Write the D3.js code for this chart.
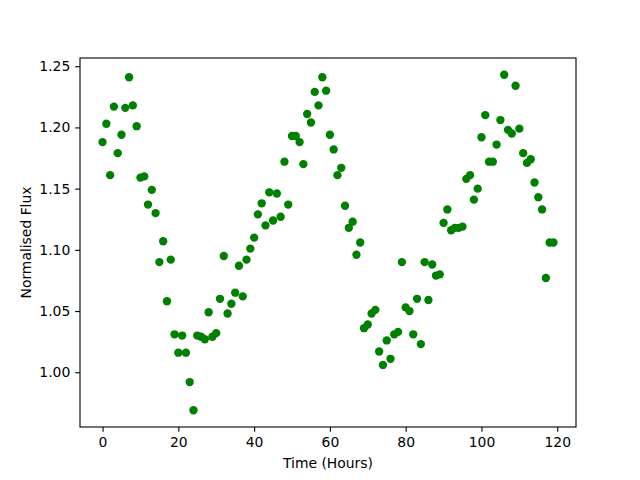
<!DOCTYPE html>
<html>
<head>
<meta charset="utf-8">
<script src="https://cdn.jsdelivr.net/npm/d3@7"></script>
<style>
  body { margin: 0; background: #fff; }
  svg { display: block; font-family: "DejaVu Sans", sans-serif; }
</style>
</head>
<body>
<svg width="640" height="480"></svg>
<script>
// Hourly samples, hours 0..119
const hours = d3.range(120);
const flux = [
  1.188, 1.203, 1.161, 1.217, 1.179, 1.194, 1.216, 1.241, 1.218, 1.201,
  1.159, 1.160, 1.137, 1.149, 1.130, 1.090, 1.107, 1.058, 1.092, 1.031,
  1.016, 1.030, 1.016, 0.992, 0.969, 1.030, 1.029, 1.027, 1.049, 1.029,
  1.032, 1.060, 1.095, 1.048, 1.056, 1.065, 1.087, 1.062, 1.092, 1.101,
  1.110, 1.129, 1.138, 1.120, 1.147, 1.124, 1.146, 1.127, 1.172, 1.137,
  1.193, 1.193, 1.188, 1.170, 1.211, 1.204, 1.229, 1.218, 1.241, 1.230,
  1.194, 1.182, 1.161, 1.167, 1.136, 1.118, 1.123, 1.096, 1.106, 1.036,
  1.039, 1.048, 1.051, 1.017, 1.006, 1.026, 1.011, 1.031, 1.033, 1.090,
  1.053, 1.050, 1.031, 1.060, 1.023, 1.090, 1.059, 1.088, 1.079, 1.080,
  1.122, 1.133, 1.116, 1.118, 1.118, 1.119, 1.158, 1.161, 1.141, 1.150,
  1.192, 1.210, 1.172, 1.172, 1.186, 1.206, 1.243, 1.198, 1.195, 1.234,
  1.199, 1.179, 1.171, 1.174, 1.155, 1.143, 1.133, 1.077, 1.106, 1.106
];
const xTicks = [0, 20, 40, 60, 80, 100, 120];
const yTicks = [1.00, 1.05, 1.10, 1.15, 1.20, 1.25];

const margin = { left: 80, right: 64, top: 58, bottom: 53 };
const width = 640, height = 480;
const svg = d3.select("svg");

// matplotlib-style 5% padding around the data range
function padded(ext) {
  const pad = (ext[1] - ext[0]) * 0.05;
  return [ext[0] - pad, ext[1] + pad];
}

const x = d3.scaleLinear()
  .domain(padded(d3.extent(hours)))
  .range([margin.left, width - margin.right]);
const y = d3.scaleLinear()
  .domain(padded(d3.extent(flux)))
  .range([height - margin.bottom, margin.top]);

const fontSize = 13.9;
const tickLen = 4.86;

// x axis
const xAxis = svg.append("g")
  .attr("transform", `translate(0,${height - margin.bottom})`)
  .call(d3.axisBottom(x).tickValues(xTicks).tickFormat(d3.format("d"))
    .tickSizeInner(tickLen).tickSizeOuter(0).tickPadding(4.86));
// y axis
const yAxis = svg.append("g")
  .attr("transform", `translate(${margin.left},0)`)
  .call(d3.axisLeft(y).tickValues(yTicks).tickFormat(d3.format(".2f"))
    .tickSizeInner(tickLen).tickSizeOuter(0).tickPadding(4.86));

[xAxis, yAxis].forEach(g => {
  g.select(".domain").remove();
  g.selectAll(".tick line").attr("stroke", "#000").attr("stroke-width", 1.1);
  g.selectAll(".tick text")
    .attr("fill", "#000")
    .style("font-family", "DejaVu Sans")
    .style("font-size", fontSize + "px");
});

// points
svg.append("g")
  .selectAll("circle")
  .data(hours)
  .join("circle")
  .attr("cx", i => x(hours[i]))
  .attr("cy", i => y(flux[i]))
  .attr("r", 4.17)
  .attr("fill", "#008000");

// frame
svg.append("rect")
  .attr("x", margin.left)
  .attr("y", margin.top)
  .attr("width", width - margin.left - margin.right)
  .attr("height", height - margin.top - margin.bottom)
  .attr("fill", "none")
  .attr("stroke", "#000")
  .attr("stroke-width", 1.1);

// axis labels
svg.append("text")
  .attr("x", (margin.left + width - margin.right) / 2)
  .attr("y", 468)
  .attr("text-anchor", "middle")
  .style("font-size", fontSize + "px")
  .text("Time (Hours)");

svg.append("text")
  .attr("transform", `translate(31,${(margin.top + height - margin.bottom) / 2}) rotate(-90)`)
  .attr("text-anchor", "middle")
  .style("font-size", fontSize + "px")
  .text("Normalised Flux");
</script>
</body>
</html>
